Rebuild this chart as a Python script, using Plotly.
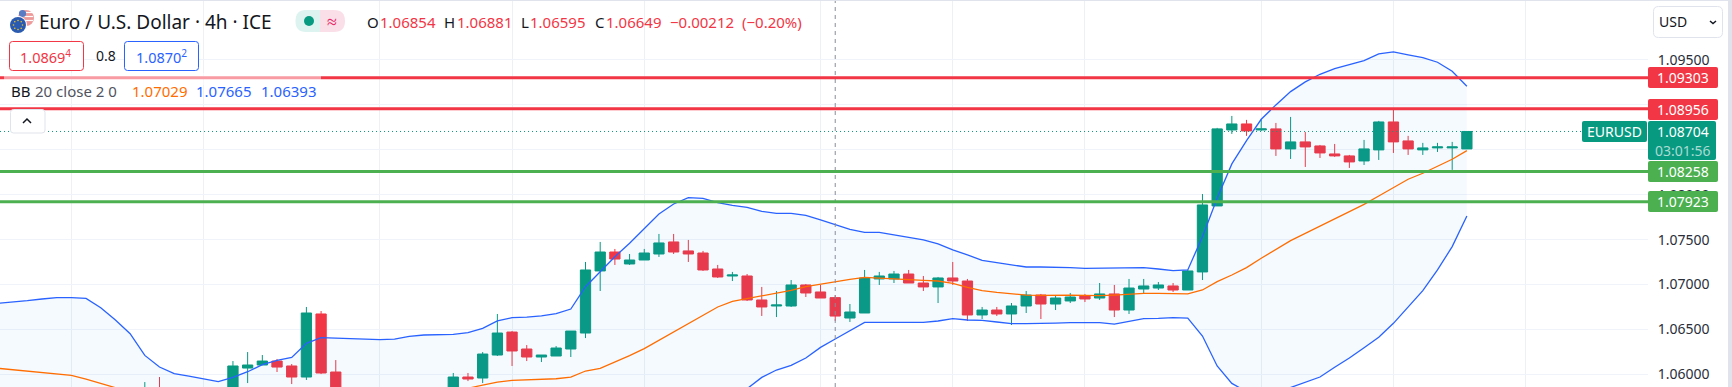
import plotly.graph_objects as go

# ---------- data ----------
bar_n = [10, 11, 16, 17, 18, 19, 20, 21, 22, 23] + list(range(31, 101))
opens = [1.05600, 1.05820, 1.05700, 1.06070, 1.06104, 1.06148, 1.06093, 1.05970, 1.06672, 1.06026,
         1.05780, 1.05970, 1.05959, 1.06215, 1.06471, 1.06282, 1.06193, 1.06204, 1.06282, 1.06460,
         1.07151, 1.07362, 1.07229, 1.07273, 1.07340, 1.07474, 1.07374, 1.07351, 1.07173, 1.07095,
         1.07095, 1.06828, 1.06761, 1.06761, 1.06995, 1.06917, 1.06854, 1.06627, 1.06683, 1.07062,
         1.07062, 1.07117, 1.07017, 1.06973, 1.07073, 1.07039, 1.06661, 1.06716, 1.06672, 1.06761,
         1.06883, 1.06783, 1.06817, 1.06872, 1.06850, 1.06895, 1.06716, 1.06950, 1.06961, 1.06984,
         1.06939, 1.07140, 1.07875, 1.08721, 1.08788, 1.08721, 1.08733, 1.08510, 1.08588, 1.08543,
         1.08454, 1.08432, 1.08376, 1.08499, 1.08810, 1.08599, 1.08499, 1.08521, 1.08521, 1.08510]
highs = [1.05914, 1.05970, 1.06148, 1.06248, 1.06215, 1.06171, 1.06115, 1.06750, 1.06705, 1.06159,
         1.06015, 1.06015, 1.06248, 1.06672, 1.06482, 1.06326, 1.06215, 1.06315, 1.06482, 1.07251,
         1.07474, 1.07396, 1.07340, 1.07396, 1.07563, 1.07563, 1.07496, 1.07374, 1.07218, 1.07140,
         1.07117, 1.06973, 1.06928, 1.07050, 1.07006, 1.06995, 1.06881, 1.06783, 1.07162, 1.07140,
         1.07151, 1.07162, 1.07095, 1.07084, 1.07251, 1.07062, 1.06750, 1.06750, 1.06794, 1.06928,
         1.06895, 1.06872, 1.06906, 1.06895, 1.07017, 1.06995, 1.07062, 1.07062, 1.07028, 1.07017,
         1.07162, 1.08008, 1.08744, 1.08877, 1.08833, 1.08844, 1.08799, 1.08866, 1.08699, 1.08554,
         1.08565, 1.08443, 1.08610, 1.08822, 1.08944, 1.08655, 1.08577, 1.08577, 1.08588, 1.08704]
lows = [1.05550, 1.05720, 1.05650, 1.05903, 1.06104, 1.06026, 1.05892, 1.05937, 1.06003, 1.05700,
        1.05750, 1.05925, 1.05903, 1.06204, 1.06093, 1.06148, 1.06137, 1.06204, 1.06193, 1.06404,
        1.06928, 1.07218, 1.07218, 1.07273, 1.07307, 1.07340, 1.07251, 1.07151, 1.07073, 1.07039,
        1.06817, 1.06650, 1.06638, 1.06750, 1.06861, 1.06850, 1.06595, 1.06583, 1.06683, 1.06995,
        1.07017, 1.07017, 1.06928, 1.06794, 1.06995, 1.06594, 1.06616, 1.06650, 1.06549, 1.06683,
        1.06616, 1.06716, 1.06794, 1.06805, 1.06828, 1.06638, 1.06672, 1.06895, 1.06939, 1.06917,
        1.06939, 1.07050, 1.07875, 1.08677, 1.08655, 1.08710, 1.08432, 1.08398, 1.08309, 1.08409,
        1.08421, 1.08298, 1.08331, 1.08387, 1.08465, 1.08443, 1.08443, 1.08476, 1.08276, 1.08510]
closes = [1.05820, 1.05750, 1.06093, 1.06104, 1.06148, 1.06081, 1.05970, 1.06683, 1.06015, 1.05750,
          1.05970, 1.05948, 1.06226, 1.06460, 1.06260, 1.06193, 1.06215, 1.06293, 1.06482, 1.07162,
          1.07362, 1.07284, 1.07273, 1.07351, 1.07463, 1.07362, 1.07340, 1.07162, 1.07084, 1.07106,
          1.06828, 1.06750, 1.06772, 1.06995, 1.06906, 1.06850, 1.06649, 1.06694, 1.07073, 1.07095,
          1.07117, 1.07017, 1.06973, 1.07073, 1.07039, 1.06661, 1.06716, 1.06672, 1.06761, 1.06883,
          1.06783, 1.06850, 1.06861, 1.06839, 1.06895, 1.06716, 1.06961, 1.06984, 1.06995, 1.06939,
          1.07151, 1.07886, 1.08733, 1.08788, 1.08710, 1.08733, 1.08510, 1.08588, 1.08532, 1.08465,
          1.08432, 1.08365, 1.08510, 1.08810, 1.08588, 1.08510, 1.08521, 1.08532, 1.08532, 1.08704]

upper_n = list(range(0, 101))
upper = [1.06791, 1.06802, 1.06820, 1.06839, 1.06854, 1.06854, 1.06846, 1.06742, 1.06605, 1.06453,
         1.06211, 1.06081, 1.06007, 1.05981, 1.05951, 1.05918, 1.05966, 1.06029, 1.06107, 1.06156,
         1.06189, 1.06345, 1.06408, 1.06404, 1.06397, 1.06389, 1.06386, 1.06393, 1.06423, 1.06438,
         1.06438, 1.06445, 1.06464, 1.06512, 1.06594, 1.06631, 1.06638, 1.06650, 1.06675, 1.06727,
         1.06976, 1.07143, 1.07310, 1.07459, 1.07626, 1.07786, 1.07897, 1.07968, 1.07960, 1.07912,
         1.07882, 1.07860, 1.07815, 1.07793, 1.07793, 1.07771, 1.07719, 1.07665, 1.07615, 1.07581,
         1.07581, 1.07552, 1.07526, 1.07496, 1.07452, 1.07385, 1.07329, 1.07270, 1.07244, 1.07221,
         1.07195, 1.07195, 1.07195, 1.07188, 1.07180, 1.07180, 1.07184, 1.07184, 1.07188, 1.07173,
         1.07154, 1.07162, 1.07533, 1.07960, 1.08343, 1.08603, 1.08840, 1.09000, 1.09148, 1.09256,
         1.09341, 1.09405, 1.09449, 1.09494, 1.09568, 1.09590, 1.09557, 1.09527, 1.09475, 1.09375,
         1.09208]

basis_n = [0, 1, 2, 3, 4, 5, 6, 7, 8, 14, 20, 26, 31] + list(range(32, 101))
basis = [1.06067, 1.06052, 1.06033, 1.06018, 1.06003, 1.05989, 1.05948, 1.05900, 1.05851, 1.05720,
         1.05680, 1.05750, 1.05825,
         1.05844, 1.05881, 1.05914, 1.05933, 1.05940, 1.05944, 1.05951, 1.05970, 1.06037, 1.06067,
         1.06133, 1.06208, 1.06286, 1.06378, 1.06471, 1.06568, 1.06657, 1.06750, 1.06813, 1.06843,
         1.06876, 1.06906, 1.06935, 1.06976, 1.07006, 1.07029, 1.07058, 1.07080, 1.07073, 1.07069,
         1.07054, 1.07047, 1.07039, 1.07013, 1.06969, 1.06932, 1.06913, 1.06898, 1.06883, 1.06880,
         1.06883, 1.06883, 1.06880, 1.06876, 1.06883, 1.06895, 1.06902, 1.06902, 1.06895, 1.06895,
         1.06939, 1.07032, 1.07106, 1.07188, 1.07292, 1.07392, 1.07489, 1.07570, 1.07652, 1.07737,
         1.07812, 1.07893, 1.07986, 1.08079, 1.08172, 1.08239, 1.08313, 1.08395, 1.08491]

lower_n = [0, 15, 30, 40, 49] + list(range(50, 101))
lower = [1.05450, 1.05250, 1.05350, 1.05450, 1.05650,
         1.05714, 1.05840, 1.05966, 1.06048, 1.06100, 1.06182, 1.06300, 1.06393, 1.06490, 1.06579,
         1.06579, 1.06579, 1.06586, 1.06579, 1.06594, 1.06620, 1.06605, 1.06601, 1.06583, 1.06564,
         1.06564, 1.06564, 1.06571, 1.06575, 1.06575, 1.06575, 1.06560, 1.06590, 1.06620, 1.06623,
         1.06631, 1.06627, 1.06427, 1.06093, 1.05899, 1.05807, 1.05781, 1.05795, 1.05855, 1.05914,
         1.05970, 1.06078, 1.06182, 1.06297, 1.06412, 1.06568, 1.06753, 1.06932, 1.07162, 1.07422,
         1.07763]

levels = [1.09303, 1.08956, 1.08258, 1.07923]
level_labels = ["1.09303", "1.08956", "1.08258", "1.07923"]
last_price = 1.08704
crosshair_n = 57
y_ticks = [1.06, 1.065, 1.07, 1.075, 1.08, 1.085, 1.09, 1.095]
y_tick_labels = ["1.06000", "1.06500", "1.07000", "1.07500", "1.08000", "1.08500", "1.09000", "1.09500"]
x_grid_n = [5, 14, 26, 35, 44, 56, 65, 74, 86, 95, 104]

# ---------- style ----------
W, H = 1732, 387
PW = 1648
GREEN, RED = "#089981", "#f23645"
LGREEN = "#4caf50"
BLUE, ORANGE = "#2962ff", "#ff6d00"
INK = "#131722"
FONT = "Noto Sans"


def fx(px):
    return px / PW


def fy(py):
    return 1 - py / H


def rrect(x0, y0, x1, y1, r=3):
    X = lambda v: f"{fx(v):.6f}"
    Y = lambda v: f"{fy(v):.6f}"
    return (f"M {X(x0 + r)} {Y(y0)} L {X(x1 - r)} {Y(y0)} Q {X(x1)} {Y(y0)} {X(x1)} {Y(y0 + r)} "
            f"L {X(x1)} {Y(y1 - r)} Q {X(x1)} {Y(y1)} {X(x1 - r)} {Y(y1)} "
            f"L {X(x0 + r)} {Y(y1)} Q {X(x0)} {Y(y1)} {X(x0)} {Y(y1 - r)} "
            f"L {X(x0)} {Y(y0 + r)} Q {X(x0)} {Y(y0)} {X(x0 + r)} {Y(y0)} Z")


shapes = []
annos = []


def box(x0, y0, x1, y1, fill, line=None, r=3):
    shapes.append(dict(type="path", xref="paper", yref="paper", path=rrect(x0, y0, x1, y1, r), fillcolor=fill,
                       line=dict(color=line or fill, width=1 if line else 0), layer="above"))


def seg(points, color, width=1.5):
    path = "M " + " L ".join(f"{fx(a):.6f} {fy(b):.6f}" for a, b in points)
    shapes.append(dict(type="path", xref="paper", yref="paper", path=path,
                       line=dict(color=color, width=width), layer="above"))


def circle(cx, cy, r, fill):
    shapes.append(dict(type="circle", xref="paper", yref="paper", x0=fx(cx - r), x1=fx(cx + r),
                       y0=fy(cy + r), y1=fy(cy - r), fillcolor=fill, line=dict(width=0), layer="above"))


def text(x, y, s, color=INK, size=13, anchor="left"):
    annos.append(dict(xref="paper", yref="paper", x=fx(x), y=fy(y), text=s, showarrow=False, xanchor=anchor,
                      yanchor="middle", borderpad=0, font=dict(family=FONT, size=size, color=color)))


fig = go.Figure()
fig.add_trace(go.Scatter(x=lower_n, y=lower, mode="lines", line=dict(color=BLUE, width=1.3), hoverinfo="skip"))
fig.add_trace(go.Scatter(x=upper_n, y=upper, mode="lines", line=dict(color=BLUE, width=1.3), fill="tonexty",
                         fillcolor="rgba(33,150,243,0.05)", hoverinfo="skip"))
fig.add_trace(go.Scatter(x=basis_n, y=basis, mode="lines", line=dict(color=ORANGE, width=1.3), hoverinfo="skip"))
fig.add_trace(go.Candlestick(x=bar_n, open=opens, high=highs, low=lows, close=closes, whiskerwidth=0,
                             increasing=dict(line=dict(color=GREEN, width=1), fillcolor=GREEN),
                             decreasing=dict(line=dict(color=RED, width=1), fillcolor=RED),
                             hoverinfo="skip"))

# crosshair and price lines
shapes.append(dict(type="line", xref="x", yref="paper", x0=crosshair_n, x1=crosshair_n, y0=0, y1=1,
                   line=dict(color="#8a8d97", width=1, dash="4px,4px"), layer="above"))
shapes.append(dict(type="line", xref="paper", yref="y", x0=0, x1=1, y0=last_price, y1=last_price,
                   line=dict(color=GREEN, width=1, dash="1px,3px"), layer="above"))
for lv, col in zip(levels, [RED, RED, LGREEN, LGREEN]):
    shapes.append(dict(type="line", xref="paper", yref="y", x0=0, x1=1, y0=lv, y1=lv,
                       line=dict(color=col, width=3), layer="above"))

# legend wash over the first level line
box(4, 73, 321, 85, "rgba(255,255,255,0.5)", r=0)

# level badges
for (t0, t1), s, col in zip([(67, 88), (99, 120), (161, 182), (191, 212)], level_labels, [RED, RED, LGREEN, LGREEN]):
    box(1648, t0, 1718, t1, col, r=2)
    text(1683, (t0 + t1) / 2, s, "#ffffff", 14, "center")
box(1648, 121, 1716, 160, GREEN, r=2)
text(1683, 131.5, "1.08704", "#ffffff", 14, "center")
text(1683, 150, "03:01:56", "#a9dcd3", 14, "center")
box(1582, 121, 1647, 142, GREEN, r=2)
text(1614.5, 131.5, "EURUSD", "#ffffff", 14, "center")

# frame
shapes.append(dict(type="rect", xref="paper", yref="paper", x0=fx(0), x1=fx(W), y0=fy(1), y1=fy(0),
                   fillcolor="#e0e3eb", line=dict(width=0), layer="above"))
shapes.append(dict(type="rect", xref="paper", yref="paper", x0=fx(1728), x1=fx(W), y0=fy(H), y1=fy(0),
                   fillcolor="#e0e3eb", line=dict(width=0), layer="above"))

# currency button
box(1653.5, 6.5, 1722.5, 37.5, "#ffffff", "#e0e3eb", 5)
text(1658, 22, "USD", INK, 14)
seg([(1710, 21), (1713, 23.5), (1716, 21)], INK, 1.5)

# symbol icon
circle(26, 18, 8, "#ef9a9a")
for sy in (12.5, 16.5, 20.5):
    seg([(19.5, sy), (33, sy)], "#ffffff", 1.2)
circle(22.5, 13.5, 3.6, "#5b7bc4")
circle(18, 25, 9, "#ffffff")
circle(18, 25, 8, "#2a5bb0")
for dx, dy in [(0, -4.5), (3.2, -3.2), (4.5, 0), (3.2, 3.2), (0, 4.5), (-3.2, 3.2), (-4.5, 0), (-3.2, -3.2)]:
    circle(18 + dx, 25 + dy, 0.8, "#f5c518")

# header
text(38, 22, "Euro / U.S. Dollar · 4h · ICE", INK, 19)
shapes.append(dict(type="path", xref="paper", yref="paper", layer="above", fillcolor="#dcf3ef", line=dict(width=0),
                   path=f"M {fx(320)} {fy(10)} L {fx(306)} {fy(10)} Q {fx(295.5)} {fy(10)} {fx(295.5)} {fy(21)} "
                        f"Q {fx(295.5)} {fy(32)} {fx(306)} {fy(32)} L {fx(320)} {fy(32)} Z"))
shapes.append(dict(type="path", xref="paper", yref="paper", layer="above", fillcolor="#fbdfe8", line=dict(width=0),
                   path=f"M {fx(320)} {fy(10)} L {fx(334)} {fy(10)} Q {fx(345)} {fy(10)} {fx(345)} {fy(21)} "
                        f"Q {fx(345)} {fy(32)} {fx(334)} {fy(32)} L {fx(320)} {fy(32)} Z"))
circle(309, 21, 5, GREEN)
text(332, 21, "≈", "#e91e63", 18, "center")

for lx, vx, lab, val in [(365.5, 379, "O", "1.06854"), (443, 455.5, "H", "1.06881"),
                         (520, 529, "L", "1.06595"), (594, 605, "C", "1.06649")]:
    text(lx, 22, lab, INK, 15)
    text(vx, 22, val, RED, 15)
text(669, 22, "−0.00212", RED, 15)
text(741, 22, "(−0.20%)", RED, 15)

box(9.5, 41.5, 83.5, 70.5, "#ffffff", RED, 3)
text(19, 56.5, "1.0869<sup>4</sup>", RED, 14.5)
text(94.5, 56, "0.8", INK, 14)
box(124.5, 41.5, 198.5, 70.5, "#ffffff", BLUE, 3)
text(134.5, 56.5, "1.0870<sup>2</sup>", BLUE, 14.5)

text(10, 91, "BB", INK, 15)
text(34, 91, "20 close 2 0", "#50535e", 15)
text(130.5, 91, "1.07029", ORANGE, 15)
text(195, 91, "1.07665", BLUE, 15)
text(259.5, 91, "1.06393", BLUE, 15)

box(10.5, 109.5, 45, 133, "#ffffff", "#e0e3eb", 3)
seg([(23, 123), (27, 119), (31, 123)], INK, 1.5)

fig.update_layout(
    width=W, height=H, margin=dict(l=0, r=W - PW, t=0, b=0), autosize=False,
    paper_bgcolor="#ffffff", plot_bgcolor="#ffffff", showlegend=False, hovermode=False,
    boxgap=0.3, boxgroupgap=0,
    shapes=shapes, annotations=annos,
    xaxis=dict(range=[0.142, 112.33], tickvals=x_grid_n, showticklabels=False, ticks="", showgrid=True,
               gridcolor="#eef0f4", gridwidth=1, zeroline=False, showline=False, rangeslider=dict(visible=False)),
    yaxis=dict(range=[1.05859, 1.10168], side="right", tickvals=y_ticks, ticktext=y_tick_labels,
               tickfont=dict(family=FONT, size=14, color="#2a2e39"), ticks="outside", ticklen=6,
               tickcolor="rgba(0,0,0,0)", showgrid=True, gridcolor="#f0f3fa", gridwidth=1, zeroline=False,
               showline=False),
)

fig.write_html("out.html", config=dict(displayModeBar=False),
               post_script="document.body.style.margin='0';document.body.style.overflow='hidden';")
